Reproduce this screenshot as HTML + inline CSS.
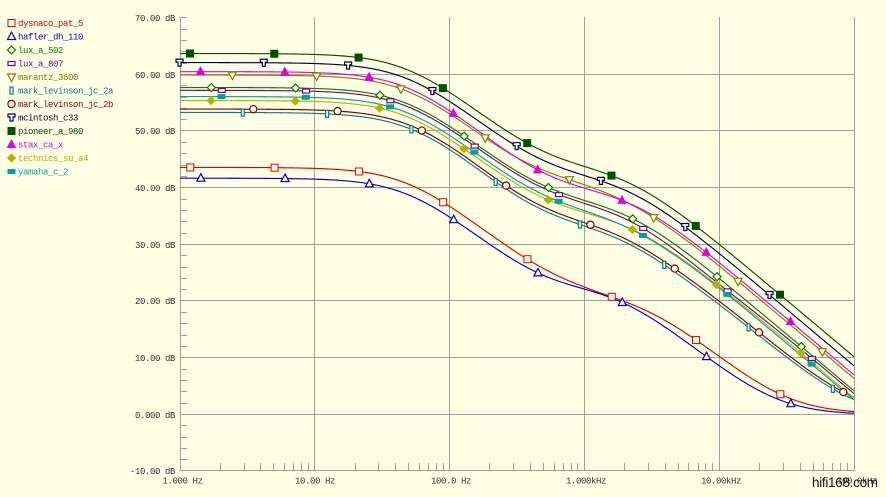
<!DOCTYPE html>
<html><head><meta charset="utf-8">
<style>
html,body{margin:0;padding:0;background:#FFFFE6;}
svg{display:block;}
text{font-family:"Liberation Mono",monospace;font-size:9px;letter-spacing:-0.4px;}
</style></head><body>
<svg id="c" width="886" height="497" viewBox="0 0 886 497" xmlns="http://www.w3.org/2000/svg">
<rect width="886" height="497" fill="#FFFFE6"/>
<g stroke="#A0A0A0" stroke-width="1" shape-rendering="crispEdges" fill="none">
  <line x1="180" y1="74.5" x2="855" y2="74.5"/>
  <line x1="180" y1="130.5" x2="855" y2="130.5"/>
  <line x1="180" y1="187.5" x2="855" y2="187.5"/>
  <line x1="180" y1="244.5" x2="855" y2="244.5"/>
  <line x1="180" y1="300.5" x2="855" y2="300.5"/>
  <line x1="180" y1="357.5" x2="855" y2="357.5"/>
  <line x1="180" y1="414.5" x2="855" y2="414.5"/>
  <line x1="180" y1="470.5" x2="855" y2="470.5"/>
  <line x1="180.5" y1="17" x2="180.5" y2="471"/>
  <line x1="314.5" y1="17" x2="314.5" y2="471"/>
  <line x1="449.5" y1="17" x2="449.5" y2="471"/>
  <line x1="584.5" y1="17" x2="584.5" y2="471"/>
  <line x1="719.5" y1="17" x2="719.5" y2="471"/>
  <line x1="854.5" y1="17" x2="854.5" y2="471"/>
  <g id="ticks"></g>
</g>
<g fill="#333333" text-anchor="end">
  <text x="175" y="21">70.00 dB</text>
  <text x="175" y="78">60.00 dB</text>
  <text x="175" y="134">50.00 dB</text>
  <text x="175" y="191">40.00 dB</text>
  <text x="175" y="248">30.00 dB</text>
  <text x="175" y="304">20.00 dB</text>
  <text x="175" y="361">10.00 dB</text>
  <text x="175" y="418">0.000 dB</text>
  <text x="175" y="474">-10.00 dB</text>
</g>
<g fill="#333333" text-anchor="middle">
  <text x="182.5" y="483.5">1.000 Hz</text>
  <text x="315" y="483.5">10.00 Hz</text>
  <text x="451" y="483.5">100.0 Hz</text>
  <text x="586" y="483.5">1.000kHz</text>
  <text x="721" y="483.5">10.00kHz</text>
  <text x="857" y="483.5">100.0kHz</text>
</g>
<g id="legend">
  <text x="18" y="26" fill="#D00000">dysnaco_pat_5</text>
  <text x="18" y="39.5" fill="#0000C0">hafler_dh_110</text>
  <text x="18" y="53" fill="#007800">lux_a_502</text>
  <text x="18" y="66.5" fill="#800080">lux_a_807</text>
  <text x="18" y="80" fill="#7A7A00">marantz_3600</text>
  <text x="18" y="93.5" fill="#007878">mark_levinson_jc_2a</text>
  <text x="18" y="107" fill="#800000">mark_levinson_jc_2b</text>
  <text x="18" y="120.5" fill="#000030">mcintosh_c33</text>
  <text x="18" y="134" fill="#004C00">pioneer_a_980</text>
  <text x="18" y="147.5" fill="#D800D8">stax_ca_x</text>
  <text x="18" y="161" fill="#B0B000">technics_su_a4</text>
  <text x="18" y="174.5" fill="#00A0A0">yamaha_c_2</text>
</g>
<g id="curves"></g>
<g id="marks"></g>
<text x="812" y="487" fill="#111111" style="font-family:'Liberation Sans',sans-serif;font-size:13.5px;letter-spacing:-0.3px;">hifi168.com</text>
</svg>
<script>
(function(){
var NS="http://www.w3.org/2000/svg";
var BG="#FFFFE6";
var X0=179.7, DX=134.8, Y0=414.5, DY=5.667;
function el(tag,attrs,parent){var e=document.createElementNS(NS,tag);for(var k in attrs)e.setAttribute(k,attrs[k]);parent.appendChild(e);return e;}
// ticks
var tk=document.getElementById("ticks");
for(var d=-8;d<=70;d+=2){ if(d%10===0 && d!==70) continue; var y=Math.round(Y0-DY*d-0.5)+0.5; el("line",{x1:180,y1:y,x2:187,y2:y},tk);}
for(var dec=0;dec<5;dec++){for(var k=2;k<=9;k++){var x=Math.round(X0+DX*(dec+Math.log10(k))-0.5)+0.5; el("line",{x1:x,y1:463,x2:x,y2:470},tk);}}
function riaa(f){var w=2*Math.PI*f;function m(t){return 10*Math.log10(1+(w*t)*(w*t));}return m(318e-6)-m(3180e-6)-m(75e-6);}
var S=[
 {c:"#E00000",G:43.6,fz:31700,b:[[-1.3,3.15,0.5]],m:"sq"},
 {c:"#0000C8",G:41.7,fz:26000,b:[[0.4,3.15,0.4]],m:"tri"},
 {c:"#008000",G:57.7,b:[],m:"dia"},
 {c:"#800080",G:57.2,b:[[-0.55,3.9,0.5]],m:"hrect"},
 {c:"#808000",G:59.9,b:[[0.6,2.9,0.4]],m:"dtri"},
 {c:"#008080",G:53.3,fz:105000,b:[[0.3,2.0,0.4],[-0.5,3.6,0.5]],m:"vrect"},
 {c:"#800000",G:53.9,fz:110000,b:[[0.3,2.0,0.4],[-0.5,3.6,0.5]],m:"circ"},
 {c:"#000040",G:62.1,b:[],m:"T"},
 {c:"#005000",G:63.7,b:[],m:"fsq"},
 {c:"#E000E0",G:60.5,b:[[-0.65,2.9,0.6]],m:"ftri"},
 {c:"#B4B400",G:55.4,b:[[1.1,4.6,1.2]],m:"fdia"},
 {c:"#00A0A0",G:56.1,b:[[-0.4,3.4,0.5]],m:"fhrect"}
];
function db(s,f){var v=s.G+riaa(f);if(s.fz)v+=10*Math.log10(1+(f/s.fz)*(f/s.fz));var lf=Math.log10(f);for(var i=0;i<s.b.length;i++){var q=(lf-s.b[i][1])/s.b[i][2];v+=s.b[i][0]*Math.exp(-q*q);}return v;}
function yAt(s,x){var f=Math.pow(10,(x-X0)/DX);return Y0-DY*db(s,f);}
function marker(g,type,x,y,c){
 var fill=BG;
 switch(type){
  case "sq": el("rect",{x:x-3.5,y:y-3.5,width:7,height:7,fill:fill,stroke:c,"stroke-width":1},g);break;
  case "fsq": el("rect",{x:x-3.5,y:y-3.5,width:7,height:7,fill:c,stroke:c,"stroke-width":1},g);break;
  case "tri": el("polygon",{points:(x)+","+(y-4.5)+" "+(x-4)+","+(y+3)+" "+(x+4)+","+(y+3),fill:fill,stroke:c,"stroke-width":1.2},g);break;
  case "ftri": el("polygon",{points:(x)+","+(y-4.5)+" "+(x-4)+","+(y+3)+" "+(x+4)+","+(y+3),fill:c,stroke:c,"stroke-width":1},g);break;
  case "dtri": el("polygon",{points:(x-4)+","+(y-3)+" "+(x+4)+","+(y-3)+" "+(x)+","+(y+4.5),fill:fill,stroke:c,"stroke-width":1.2},g);break;
  case "dia": el("polygon",{points:(x)+","+(y-4)+" "+(x+4)+","+(y)+" "+(x)+","+(y+4)+" "+(x-4)+","+(y),fill:fill,stroke:c,"stroke-width":1.2},g);break;
  case "fdia": el("polygon",{points:(x)+","+(y-4)+" "+(x+4)+","+(y)+" "+(x)+","+(y+4)+" "+(x-4)+","+(y),fill:c,stroke:c,"stroke-width":1},g);break;
  case "hrect": el("rect",{x:x-3.5,y:y-2,width:7,height:4,fill:fill,stroke:c,"stroke-width":1.2},g);break;
  case "fhrect": el("rect",{x:x-3.5,y:y-2,width:7,height:4,fill:c,stroke:c,"stroke-width":1},g);break;
  case "vrect": el("rect",{x:x-1.5,y:y-3.5,width:3,height:7,fill:fill,stroke:c,"stroke-width":1.2},g);break;
  case "circ": el("circle",{cx:x,cy:y,r:3.6,fill:fill,stroke:c,"stroke-width":1.2},g);break;
  case "T": el("path",{d:"M"+(x-3.5)+","+(y-3.5)+"H"+(x+3.5)+"V"+(y-0.5)+"H"+(x+1.5)+"V"+(y+3.5)+"H"+(x-1.5)+"V"+(y-0.5)+"H"+(x-3.5)+"Z",fill:"#FFFFFF",stroke:c,"stroke-width":1.2},g);break;
 }
}
var cg=document.getElementById("curves"), mg=document.getElementById("marks"), lg=document.getElementById("legend");
for(var i=0;i<S.length;i++){
 var s=S[i]; var pts=[];
 for(var x=180;x<=854;x+=1.5){pts.push(x.toFixed(1)+","+yAt(s,x).toFixed(2));}
 pts.push("854,"+yAt(s,854).toFixed(2));
 el("polyline",{points:pts.join(" "),fill:"none",stroke:s.c,"stroke-width":1.15,"stroke-linejoin":"round"},cg);
 var st=190.3+10.5*i; while(st-84.29>=179) st-=84.29;
 for(var mx=st;mx<=852;mx+=84.29){marker(mg,s.m,mx,yAt(s,mx),s.c);}
 marker(lg,s.m,11.5,23+13.5*i,s.c);
}
})();
</script>
</body></html>
